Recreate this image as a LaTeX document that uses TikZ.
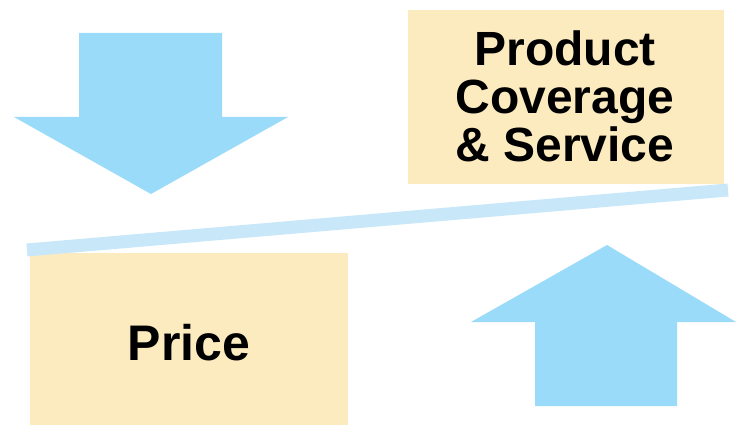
\documentclass[tikz,border=0pt]{standalone}
\usepackage{fontspec}
\setmainfont{Liberation Sans}
\definecolor{arrowblue}{HTML}{99DBF8}
\definecolor{boxyellow}{HTML}{FDEBC0}
\definecolor{barblue}{HTML}{C8E8F9}
\begin{document}
\begin{tikzpicture}[x=1pt,y=-1pt,
  boxstyle/.style={fill=boxyellow, draw=none, inner sep=0pt, align=center, font=\bfseries},
  arrowshape/.style={fill=arrowblue, draw=none}]
\useasboundingbox (0,0) rectangle (736,425);
% down arrow
\fill[arrowshape] (79,33) -- (222,33) -- (222,117) -- (288,117) -- (151,194) -- (14,117) -- (79,117) -- cycle;
% up arrow
\fill[arrowshape] (535,406) -- (677,406) -- (677,322) -- (736,322) -- (607,245) -- (471,322) -- (535,322) -- cycle;
% boxes
\node[boxstyle, minimum width=316pt, minimum height=174pt] (pcs) at (566,97) {};
\node[font=\bfseries\fontsize{48}{48}\selectfont, inner sep=0pt, align=center] (pcstext) at (565,96) {Product\\Coverage\\\& Service};
\node[boxstyle, minimum width=318pt, minimum height=172pt] (pricebox) at (189,339) {};
\node[font=\bfseries\fontsize{50}{52}\selectfont, inner sep=0pt, anchor=base] (price) at (189,360) {Price};
% bar
\coordinate (barL) at (27,250);
\coordinate (barR) at (728,190);
\draw[barblue, line width=13pt] (barL) -- (barR);
\end{tikzpicture}
\end{document}
